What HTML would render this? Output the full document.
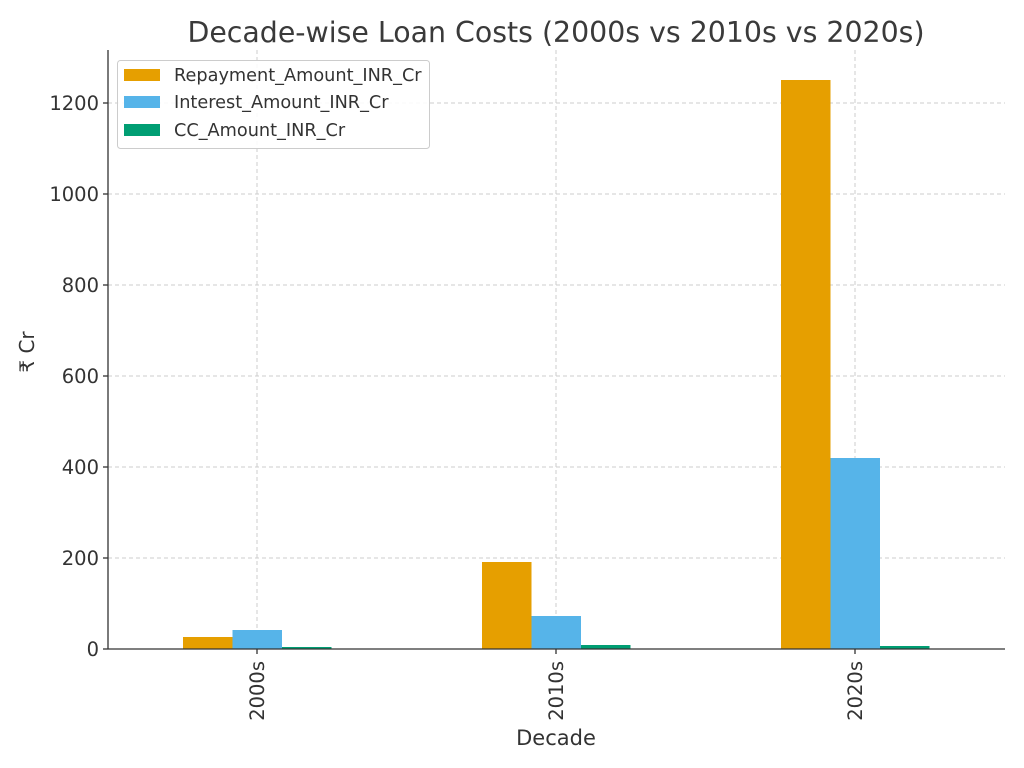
<!DOCTYPE html>
<html><head><meta charset="utf-8"><style>body{margin:0;background:#fff}svg{display:block}</style></head><body>
<svg width="1024" height="768" xmlns="http://www.w3.org/2000/svg" font-family="DejaVu Sans, Liberation Sans, sans-serif" fill="#333">
<rect width="1024" height="768" fill="#fff"/>
<text x="556" y="42" font-size="28.4" text-anchor="middle" fill="#3a3a3a">Decade-wise Loan Costs (2000s vs 2010s vs 2020s)</text>
<g stroke="#ccc" stroke-dasharray="4,3" stroke-width="1">
<line x1="108" x2="1005" y1="558" y2="558"/><line x1="108" x2="1005" y1="467" y2="467"/><line x1="108" x2="1005" y1="376" y2="376"/><line x1="108" x2="1005" y1="285" y2="285"/><line x1="108" x2="1005" y1="194" y2="194"/><line x1="108" x2="1005" y1="103" y2="103"/>
<line x1="257" x2="257" y1="50" y2="649"/><line x1="556" x2="556" y1="50" y2="649"/><line x1="855" x2="855" y1="50" y2="649"/>
</g>
<g>
<rect x="183" y="637" width="49.5" height="12" fill="#E69F00"/><rect x="232.5" y="630" width="49.5" height="19" fill="#56B4E9"/><rect x="282" y="647" width="49.5" height="2" fill="#009E73"/>
<rect x="482" y="562" width="49.5" height="87" fill="#E69F00"/><rect x="531.5" y="616" width="49.5" height="33" fill="#56B4E9"/><rect x="581" y="645" width="49.5" height="4" fill="#009E73"/>
<rect x="781" y="80" width="49.5" height="569" fill="#E69F00"/><rect x="830.5" y="458" width="49.5" height="191" fill="#56B4E9"/><rect x="880" y="646" width="49.5" height="3" fill="#009E73"/>
</g>
<g stroke="#333" stroke-width="1.3"><line x1="108" x2="108" y1="50" y2="649"/><line x1="108" x2="1005" y1="649" y2="649"/>
<line x1="103" x2="108" y1="649" y2="649"/><line x1="103" x2="108" y1="558" y2="558"/><line x1="103" x2="108" y1="467" y2="467"/><line x1="103" x2="108" y1="376" y2="376"/><line x1="103" x2="108" y1="285" y2="285"/><line x1="103" x2="108" y1="194" y2="194"/><line x1="103" x2="108" y1="103" y2="103"/>
<line x1="257" x2="257" y1="649" y2="654"/><line x1="556" x2="556" y1="649" y2="654"/><line x1="855" x2="855" y1="649" y2="654"/></g>
<g font-size="19.5" text-anchor="end">
<text x="99" y="656">0</text><text x="99" y="565">200</text><text x="99" y="474">400</text><text x="99" y="383">600</text><text x="99" y="292">800</text><text x="99" y="201">1000</text><text x="99" y="110">1200</text></g>
<g font-size="19.5" text-anchor="end">
<text transform="translate(264,661) rotate(-90)">2000s</text><text transform="translate(563,661) rotate(-90)">2010s</text><text transform="translate(862,661) rotate(-90)">2020s</text></g>
<text x="556" y="745" font-size="21" text-anchor="middle">Decade</text>
<text transform="translate(34,352) rotate(-90)" font-size="20" text-anchor="middle">₹ Cr</text>
<rect x="117.5" y="60.5" width="312" height="88" rx="3" fill="#fff" fill-opacity="0.85" stroke="#ccc"/>
<rect x="124" y="69" width="36" height="12" fill="#E69F00"/><rect x="124" y="96" width="36" height="12" fill="#56B4E9"/><rect x="124" y="124" width="36" height="12" fill="#009E73"/>
<g font-size="17.7"><text x="174" y="81">Repayment_Amount_INR_Cr</text><text x="174" y="108">Interest_Amount_INR_Cr</text><text x="174" y="136">CC_Amount_INR_Cr</text></g>
</svg>
</body></html>
